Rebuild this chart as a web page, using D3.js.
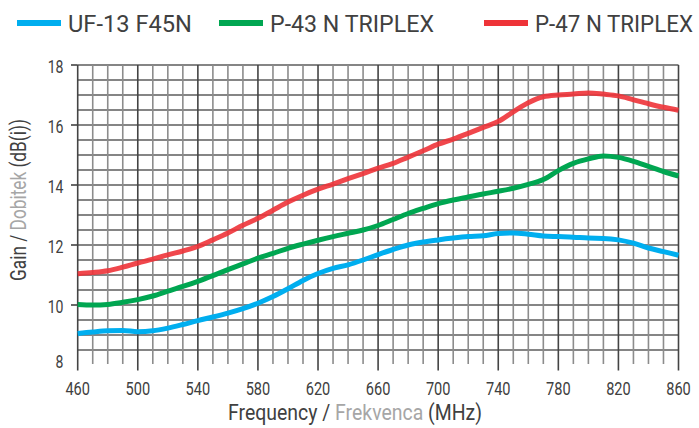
<!DOCTYPE html>
<html>
<head>
<meta charset="utf-8">
<script src="https://cdn.jsdelivr.net/npm/d3@7"></script>
<style>
  html, body { margin: 0; padding: 0; background: #fff; }
  svg text { font-family: Roboto, "Noto Sans", sans-serif; fill: #404040; }
</style>
</head>
<body>
<svg id="chart" width="699" height="428"></svg>
<script>
// ---- data ----
const frequencies = d3.range(460, 861, 10); // MHz, 460..860 step 10
const seriesNames = ["UF-13 F45N", "P-43 N TRIPLEX", "P-47 N TRIPLEX"];
const seriesColors = ["#00AEEF", "#00A651", "#EE3338"];
const uf13 = [9.05, 9.10, 9.14, 9.15, 9.11, 9.14, 9.23, 9.35, 9.48, 9.60,
              9.73, 9.88, 10.06, 10.28, 10.54, 10.82, 11.05, 11.22, 11.34, 11.50,
              11.68, 11.85, 12.00, 12.10, 12.17, 12.23, 12.28, 12.31, 12.38, 12.40,
              12.36, 12.30, 12.28, 12.26, 12.23, 12.22, 12.17, 12.06, 11.90, 11.78, 11.66];
const p43 = [10.02, 10.00, 10.02, 10.09, 10.18, 10.30, 10.46, 10.62, 10.79, 10.98,
             11.18, 11.37, 11.56, 11.72, 11.89, 12.03, 12.16, 12.28, 12.39, 12.50,
             12.65, 12.85, 13.05, 13.22, 13.38, 13.50, 13.60, 13.70, 13.79, 13.89,
             14.02, 14.18, 14.48, 14.72, 14.87, 14.97, 14.92, 14.79, 14.62, 14.45, 14.30];
const p47 = [11.04, 11.08, 11.14, 11.26, 11.40, 11.53, 11.67, 11.80, 11.95, 12.17,
             12.40, 12.66, 12.89, 13.16, 13.43, 13.66, 13.86, 14.03, 14.21, 14.38,
             14.56, 14.72, 14.93, 15.14, 15.36, 15.53, 15.72, 15.92, 16.12, 16.44,
             16.74, 16.94, 17.00, 17.03, 17.07, 17.03, 16.97, 16.84, 16.71, 16.59, 16.49];
const xTickLabels = [460, 500, 540, 580, 620, 660, 700, 740, 780, 820, 860];
const yTickLabels = [8, 10, 12, 14, 16, 18];

const svg = d3.select("#chart");
const x = d3.scaleLinear().domain([460, 860]).range([77.7, 678.5]);
const y = d3.scaleLinear().domain([8, 18]).range([365, 65]);

// ---- grid ----
const grid = svg.append("g");
d3.range(8.5, 18.01, 0.5).forEach(v => {
  grid.append("line")
    .attr("x1", x(460)).attr("x2", x(860))
    .attr("y1", y(v)).attr("y2", y(v))
    .attr("stroke", "#5c5c5c").attr("stroke-width", 1.6);
});
d3.range(460, 861, 10).forEach(f => {
  const major = (f - 460) % 40 === 0;
  grid.append("line")
    .attr("x1", x(f)).attr("x2", x(f))
    .attr("y1", y(18)).attr("y2", major ? 370.5 : 364)
    .attr("stroke", major ? "#444" : "#8c8c8c").attr("stroke-width", 1.6);
});
yTickLabels.filter(v => v > 8).forEach(v => {
  grid.append("line")
    .attr("x1", 71).attr("x2", x(460))
    .attr("y1", y(v)).attr("y2", y(v))
    .attr("stroke", "#444").attr("stroke-width", 1.6);
});

// ---- narrowed text helper: scales a text horizontally to a target width ----
function narrowText(parts, size, targetW, tx, ty, rot, anchor) {
  const g = svg.append("g");
  const inner = g.append("g");
  const t = inner.append("text").attr("font-size", size).attr("text-anchor", anchor);
  parts.forEach(p => t.append("tspan").style("fill", p[1]).text(p[0]));
  const w = t.node().getComputedTextLength();
  inner.attr("transform", `scale(${targetW / w},1)`);
  g.attr("transform", `translate(${tx},${ty}) rotate(${rot})`);
}

// ---- tick labels ----
yTickLabels.forEach(d => {
  narrowText([[String(d), "#404040"]], 17.5, String(d).length * 7.9,
             63.5, Math.min(y(d) + 8, 368), 0, "end");
});
xTickLabels.forEach(d => {
  narrowText([[String(d), "#404040"]], 17.5, String(d).length * 8.2,
             x(d), 395, 0, "middle");
});

// ---- axis titles ----
narrowText([["Frequency / ", "#404040"], ["Frekvenca", "#a6a6a6"], [" (MHz)", "#404040"]], 22, 254, 355, 420, 0, "middle");
narrowText([["Gain / ", "#404040"], ["Dobitek", "#a6a6a6"], [" (dB(i))", "#404040"]], 21.5, 162, 26, 200, -90, "middle");

// ---- curves ----
const line = d3.line().x((d, i) => x(frequencies[i])).y(d => y(d)).curve(d3.curveMonotoneX);
[uf13, p43, p47].forEach((s, k) => {
  svg.append("path")
    .attr("d", line(s))
    .attr("fill", "none")
    .attr("stroke", seriesColors[k])
    .attr("stroke-width", 5)
    .attr("stroke-opacity", k === 2 ? 0.9 : 1)
    .attr("stroke-linejoin", "round");
});

// ---- legend ----
const legendX = [17, 219, 484];
const legendW = [124, 164, 158];
seriesNames.forEach((name, k) => {
  svg.append("rect")
    .attr("x", legendX[k]).attr("y", 20)
    .attr("width", 44).attr("height", 6)
    .attr("fill", seriesColors[k]);
  narrowText([[name, "#404040"]], 24, legendW[k], legendX[k] + 51, 32, 0, "start");
});
</script>
</body>
</html>
